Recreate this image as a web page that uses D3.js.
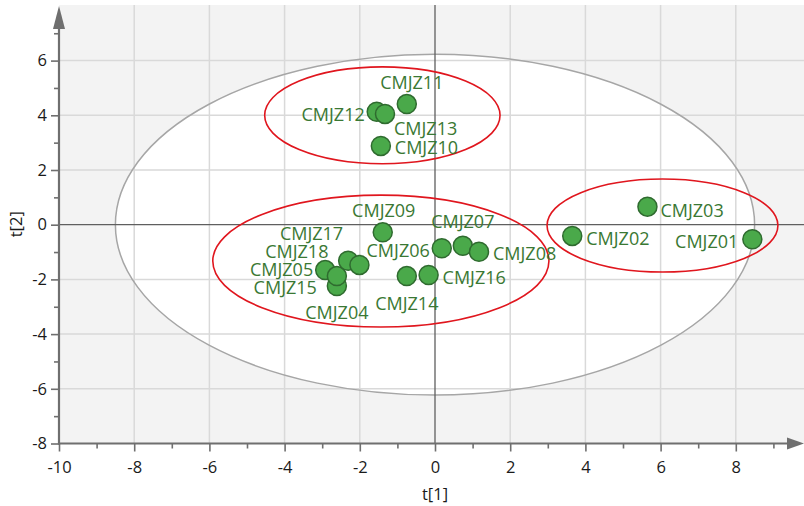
<!DOCTYPE html>
<html>
<head>
<meta charset="utf-8">
<script src="https://cdn.jsdelivr.net/npm/d3@7"></script>
<style>
  body { margin: 0; background: #fff; }
  svg { display: block; }
</style>
</head>
<body>
<svg id="chart" width="804" height="506"></svg>
<script>
// Score plot t[1] vs t[2]
const samples = ["CMJZ01","CMJZ02","CMJZ03","CMJZ04","CMJZ05","CMJZ06","CMJZ07","CMJZ08","CMJZ09",
                 "CMJZ10","CMJZ11","CMJZ12","CMJZ13","CMJZ14","CMJZ15","CMJZ16","CMJZ17","CMJZ18"];
const t1 = [8.44, 3.65, 5.65, -2.61, -2.92, 0.18, 0.74, 1.17, -1.39,
            -1.44, -0.75, -1.55, -1.33, -0.75, -2.61, -0.17, -2.31, -2.01];
const t2 = [-0.53, -0.41, 0.66, -2.24, -1.66, -0.86, -0.77, -0.99, -0.28,
            2.88, 4.41, 4.13, 4.05, -1.88, -1.88, -1.84, -1.32, -1.47];

const xTicks = [-10, -8, -6, -4, -2, 0, 2, 4, 6, 8];
const yTicks = [-8, -6, -4, -2, 0, 2, 4, 6];
const xMinor = [-9, -7, -5, -3, -1, 1, 3, 5, 7, 9];
const yMinor = [-7, -5, -3, -1, 1, 3, 5, 7];

// Hotelling T2 (95%) ellipse semi-axes
const hotellingRx = 8.50;
const hotellingRy = 6.23;

// Group ellipses (centre and semi-axes, score units)
const groupCx = [-1.40, -1.44, 6.05];
const groupCy = [4.00, -1.33, -0.03];
const groupRx = [3.13, 4.47, 3.07];
const groupRy = [1.77, 2.41, 1.70];

// Label placement beside each point: anchor, dx, dy (px)
const labelPlacement = [
  ["end", -14, 2], ["start", 14, 2], ["start", 13, 3], ["middle", 0, 26], ["end", -12, -1],
  ["end", -12, 2], ["middle", 0, -25], ["start", 14, 1], ["middle", 1, -22], ["start", 14, 1],
  ["middle", 5, -22], ["end", -12, 2], ["start", 9, 14], ["middle", 0, 27], ["end", -20, 11],
  ["start", 14, 2], ["end", -5, -28], ["end", -31, -14]
];

const svg = d3.select("#chart");
const plotL = 59, plotR = 804, plotT = 5, plotB = 443.5;

const x = d3.scaleLinear().domain([-10, 10]).range([59, 811]);
const y = d3.scaleLinear().domain([-8, 8]).range([443.5, 5.9]);

svg.append("defs").append("clipPath").attr("id", "plotClip")
  .append("rect").attr("x", plotL).attr("y", plotT)
  .attr("width", plotR - plotL).attr("height", plotB - plotT);

const plot = svg.append("g").attr("clip-path", "url(#plotClip)");

// background
plot.append("rect").attr("x", plotL).attr("y", plotT)
  .attr("width", plotR - plotL).attr("height", plotB - plotT)
  .attr("fill", "#f3f3f3");

// inside of the T2 ellipse
plot.append("ellipse")
  .attr("cx", x(0)).attr("cy", y(0))
  .attr("rx", x(hotellingRx) - x(0)).attr("ry", y(0) - y(hotellingRy))
  .attr("fill", "#ffffff");

// grid
plot.selectAll("line.gx").data(xTicks.filter(d => d !== 0 && d !== -10)).join("line")
  .attr("class", "gx")
  .attr("x1", d => x(d)).attr("x2", d => x(d))
  .attr("y1", plotT).attr("y2", plotB)
  .attr("stroke", "#d9d9d9").attr("stroke-width", 1.5);
plot.selectAll("line.gy").data(yTicks.filter(d => d !== 0 && d !== -8)).join("line")
  .attr("class", "gy")
  .attr("x1", plotL).attr("x2", plotR)
  .attr("y1", d => y(d)).attr("y2", d => y(d))
  .attr("stroke", "#d9d9d9").attr("stroke-width", 1.5);

// T2 ellipse outline
plot.append("ellipse")
  .attr("cx", x(0)).attr("cy", y(0))
  .attr("rx", x(hotellingRx) - x(0)).attr("ry", y(0) - y(hotellingRy))
  .attr("fill", "none").attr("stroke", "#a6a6a6").attr("stroke-width", 1.5);

// zero lines
plot.append("line").attr("x1", x(0)).attr("x2", x(0)).attr("y1", plotT).attr("y2", plotB)
  .attr("stroke", "#5f5f5f").attr("stroke-width", 1.3);
plot.append("line").attr("x1", plotL).attr("x2", plotR).attr("y1", y(0)).attr("y2", y(0))
  .attr("stroke", "#5f5f5f").attr("stroke-width", 1.3);

// group ellipses
plot.selectAll("ellipse.group").data(groupCx).join("ellipse")
  .attr("class", "group")
  .attr("cx", d => x(d))
  .attr("cy", (d, i) => y(groupCy[i]))
  .attr("rx", (d, i) => x(d + groupRx[i]) - x(d))
  .attr("ry", (d, i) => y(groupCy[i]) - y(groupCy[i] + groupRy[i]))
  .attr("fill", "none").attr("stroke", "#e0161e").attr("stroke-width", 1.6);

// axes
const axisColor = "#6f6f6f";
const fontFamily = "'Open Sans', 'Noto Sans', sans-serif";
const plainNum = d => String(d);

const yAxis = svg.append("g").attr("transform", `translate(${plotL},0)`)
  .call(d3.axisLeft(y).tickValues(yTicks).tickSize(8).tickPadding(4).tickFormat(plainNum));
const yAxisMinor = svg.append("g").attr("transform", `translate(${plotL},0)`)
  .call(d3.axisLeft(y).tickValues(yMinor).tickSize(5).tickFormat(""));
const xAxis = svg.append("g").attr("transform", `translate(0,${plotB})`)
  .call(d3.axisBottom(x).tickValues(xTicks).tickSize(8).tickPadding(6).tickFormat(plainNum));
const xAxisMinor = svg.append("g").attr("transform", `translate(0,${plotB})`)
  .call(d3.axisBottom(x).tickValues(xMinor).tickSize(5).tickFormat(""));

[yAxis, yAxisMinor, xAxis, xAxisMinor].forEach(g => {
  g.select(".domain").remove();
  g.selectAll(".tick line").attr("stroke", axisColor).attr("stroke-width", 1.6);
  g.selectAll(".tick text").attr("fill", "#1a1a1a")
    .style("font-family", fontFamily).style("font-size", "16.5px");
});
xAxis.selectAll(".tick text").attr("dy", "0.95em");

// axis lines with arrow heads
svg.append("line").attr("x1", plotL).attr("x2", plotL).attr("y1", plotB + 1).attr("y2", 26)
  .attr("stroke", axisColor).attr("stroke-width", 2.2);
svg.append("path")
  .attr("d", `M${plotL},6 L${plotL - 6},29 L${plotL + 6},29 Z`)
  .attr("fill", axisColor);
svg.append("line").attr("x1", plotL - 1).attr("x2", 790).attr("y1", plotB).attr("y2", plotB)
  .attr("stroke", axisColor).attr("stroke-width", 2.2);
svg.append("path")
  .attr("d", `M804,${plotB} L787,${plotB - 6} L787,${plotB + 6} Z`)
  .attr("fill", axisColor);

// axis titles
svg.append("text").attr("x", x(0)).attr("y", 500)
  .attr("text-anchor", "middle").attr("fill", "#1a1a1a")
  .style("font-family", fontFamily).style("font-size", "16.5px")
  .text("t[1]");
svg.append("text")
  .attr("transform", `translate(22,${(plotT + plotB) / 2}) rotate(-90)`)
  .attr("text-anchor", "middle").attr("fill", "#1a1a1a")
  .style("font-family", fontFamily).style("font-size", "16.5px")
  .text("t[2]");

// points
const pts = svg.append("g");
pts.selectAll("circle").data(samples).join("circle")
  .attr("cx", (d, i) => x(t1[i]))
  .attr("cy", (d, i) => y(t2[i]))
  .attr("r", 9.5)
  .attr("fill", "#4aa94a").attr("stroke", "#2f6b2f").attr("stroke-width", 1.5);

// point labels
pts.selectAll("text").data(samples).join("text")
  .attr("x", (d, i) => x(t1[i]) + labelPlacement[i][1])
  .attr("y", (d, i) => y(t2[i]) + labelPlacement[i][2])
  .attr("text-anchor", (d, i) => labelPlacement[i][0])
  .attr("dominant-baseline", "central")
  .attr("fill", "#3a7833")
  .style("font-family", fontFamily).style("font-size", "18px")
  .text(d => d);
</script>
</body>
</html>
